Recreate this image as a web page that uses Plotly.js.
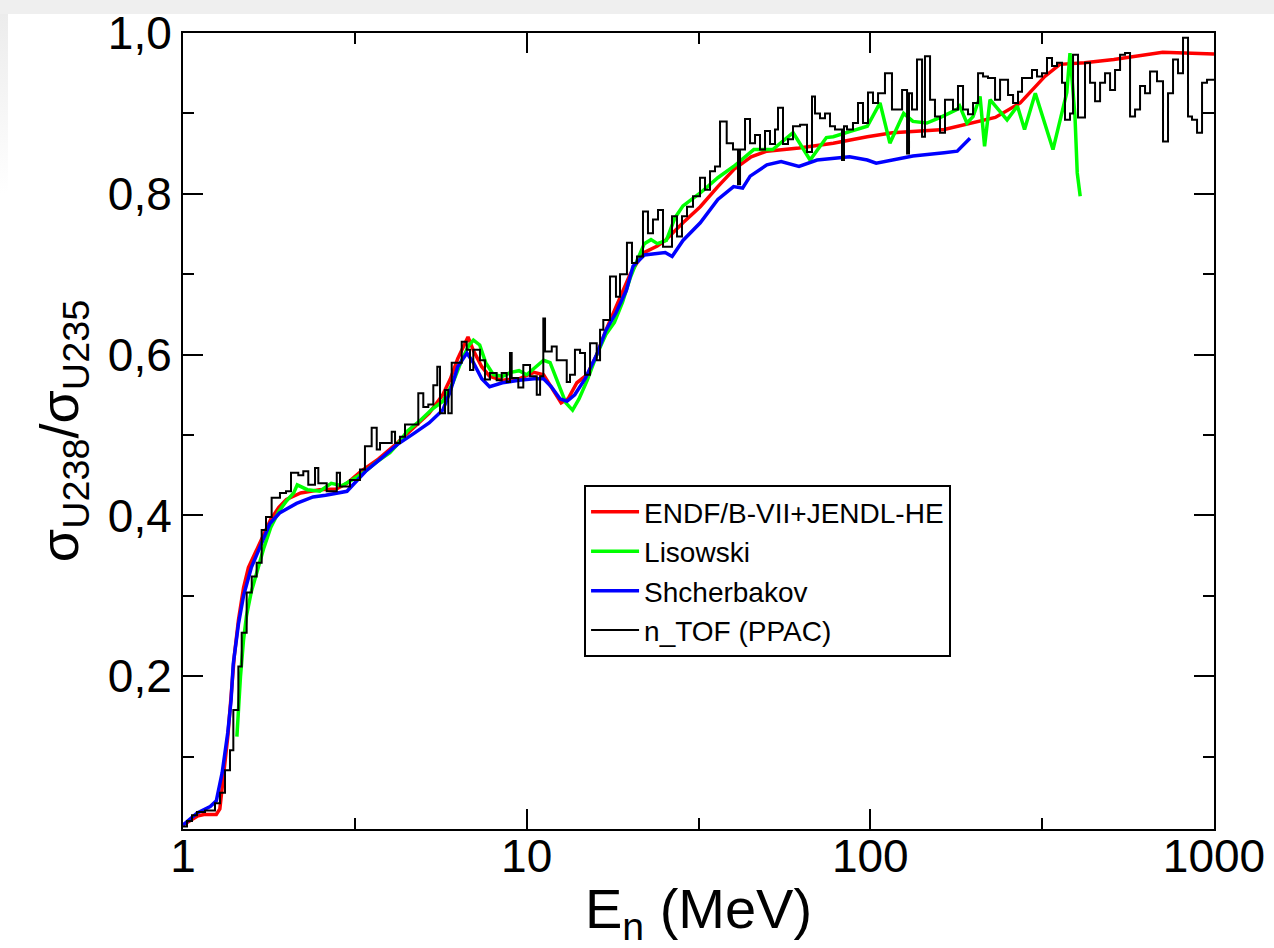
<!DOCTYPE html>
<html>
<head>
<meta charset="utf-8">
<script src="https://cdn.plot.ly/plotly-3.0.1.min.js"></script>
<style>
  html, body { margin: 0; padding: 0; background: #ffffff; }
  #topstrip { position: absolute; left: 0; top: 0; width: 1274px; height: 14px; background: #efefef; }
  #leftstrip { position: absolute; left: 0; top: 14px; width: 8px; height: 180px; background: linear-gradient(to bottom, #ececec, #ffffff); }
  #chart { position: absolute; left: 0; top: 0; width: 1274px; height: 948px; }
</style>
</head>
<body>
<div id="topstrip"></div>
<div id="leftstrip"></div>
<div id="chart"></div>
<script>
// ENDF/B-VII + JENDL-HE evaluation
const endfE = [1.00,1.05,1.10,1.15,1.25,1.28,1.31,1.35,1.38,1.41,
  1.45,1.50,1.55,1.60,1.70,1.80,1.90,2.00,2.20,2.50,
  2.80,3.00,3.30,3.70,4.20,4.70,5.20,5.70,6.00,6.30,
  6.60,6.75,7.00,7.40,7.80,8.50,9.50,10.5,11.2,11.8,
  12.6,13.2,14.0,15.0,16.0,17.0,18.0,19.0,20.0,21.0,
  22.0,24.0,25.3,28.5,32.0,36.0,40.0,45.0,50.0,62.0,
  78.0,98.0,116,164,195,231,273,302,322,356,
  420,511,633,709,1000];
const endfRatio = [0.015,0.020,0.026,0.028,0.028,0.035,0.075,0.125,0.175,0.225,
  0.270,0.310,0.335,0.348,0.372,0.395,0.410,0.420,0.428,0.432,
  0.433,0.440,0.455,0.470,0.490,0.510,0.527,0.550,0.570,0.595,
  0.615,0.622,0.605,0.585,0.573,0.568,0.570,0.578,0.575,0.560,
  0.540,0.545,0.565,0.575,0.600,0.630,0.655,0.680,0.700,0.715,
  0.727,0.735,0.742,0.764,0.784,0.809,0.830,0.846,0.853,0.857,
  0.863,0.871,0.876,0.880,0.888,0.895,0.913,0.934,0.946,0.961,
  0.963,0.967,0.973,0.976,0.974];

// Lisowski
const lisE = [1.435,1.45,1.47,1.50,1.53,1.58,1.65,1.72,1.80,1.90,
  2.00,2.10,2.15,2.30,2.50,2.70,2.90,3.10,3.40,3.70,
  4.00,4.20,4.50,4.90,5.30,5.70,6.10,6.50,6.80,7.00,
  7.30,7.60,8.00,8.50,9.00,9.50,10.0,10.6,11.2,11.7,
  12.3,13.0,13.6,14.2,15.0,16.0,17.0,18.0,19.0,20.0,
  21.0,22.0,23.0,24.0,25.5,27.0,28.5,32.0,36.0,40.0,
  45.8,52.0,59.6,66.8,74.5,78.0,88.0,98.0,106.7,114,
  125,133,146,160,179,182,191,199,208.6,215,
  223,250,268,281,302,340,373,381,394,400,
  408];
const lisRatio = [0.125,0.160,0.200,0.245,0.275,0.305,0.335,0.360,0.385,0.405,
  0.418,0.428,0.438,0.432,0.430,0.440,0.437,0.444,0.455,0.468,
  0.478,0.488,0.505,0.518,0.532,0.542,0.565,0.595,0.612,0.618,
  0.612,0.590,0.575,0.573,0.578,0.580,0.575,0.585,0.593,0.590,
  0.565,0.540,0.531,0.545,0.568,0.600,0.625,0.640,0.665,0.695,
  0.718,0.738,0.743,0.738,0.742,0.770,0.785,0.801,0.820,0.834,
  0.855,0.855,0.876,0.842,0.870,0.871,0.878,0.884,0.913,0.863,
  0.900,0.890,0.888,0.895,0.905,0.909,0.888,0.896,0.921,0.859,
  0.917,0.892,0.909,0.880,0.925,0.855,0.926,0.975,0.896,0.826,
  0.797];

// Shcherbakov
const shchE = [1.00,1.05,1.10,1.20,1.25,1.30,1.35,1.38,1.40,1.45,
  1.50,1.58,1.69,1.79,1.91,2.05,2.14,2.39,2.60,3.00,
  3.40,3.75,4.20,4.70,5.20,5.70,6.00,6.30,6.70,7.00,
  7.40,7.80,8.50,9.50,10.5,11.2,11.8,12.5,13.1,13.8,
  14.8,16.0,17.0,18.2,19.5,20.4,22.0,25.3,26.5,28.5,
  32.0,36.0,40.0,42.5,44.7,50.0,55.0,62.0,70.0,87.0,
  98.0,104,116,133,164,179,195];
const shchRatio = [0.015,0.022,0.030,0.038,0.045,0.080,0.130,0.170,0.215,0.265,
  0.300,0.335,0.365,0.390,0.403,0.410,0.415,0.423,0.425,0.430,
  0.455,0.470,0.488,0.502,0.515,0.531,0.555,0.585,0.602,0.590,
  0.570,0.560,0.565,0.568,0.570,0.570,0.560,0.545,0.542,0.550,
  0.570,0.600,0.630,0.652,0.680,0.710,0.724,0.727,0.722,0.742,
  0.764,0.793,0.809,0.807,0.822,0.836,0.840,0.834,0.842,0.846,
  0.842,0.838,0.842,0.847,0.851,0.853,0.869];

// n_TOF (PPAC) histogram: bin left edges (MeV) and ratio
const ntofE = [1.000,1.027,1.062,1.098,1.159,1.239,1.281,1.325,1.370,1.401,
  1.449,1.482,1.532,1.585,1.638,1.694,1.744,1.811,1.915,1.994,
  2.062,2.165,2.239,2.315,2.422,2.476,2.619,2.802,2.863,3.061,
  3.273,3.384,3.540,3.662,3.743,4.049,4.140,4.279,4.425,4.838,
  5.003,5.173,5.350,5.495,5.595,5.785,5.915,6.052,6.471,6.692,
  6.841,6.994,7.313,7.563,7.821,8.180,8.459,8.748,8.943,9.045,
  9.456,9.777,10.23,10.70,10.94,11.18,11.31,11.83,12.23,13.08,
  13.37,13.82,14.30,14.78,15.29,15.99,16.35,16.71,17.48,18.19,
  18.69,19.58,20.25,20.94,21.80,22.54,23.31,24.11,24.93,26.48,
  27.38,28.31,29.28,30.48,31.94,33.03,34.16,35.32,36.53,38.20,
  39.85,41.21,41.77,43.19,44.66,46.18,47.75,49.38,51.06,52.80,
  53.87,55.70,57.60,59.56,62.44,65.43,67.66,69.03,71.38,73.81,
  76.33,78.93,82.71,83.82,85.52,89.02,92.06,95.20,98.45,101.8,
  105.3,110.3,115.6,123.7,127.9,129.6,132.2,136.7,141.4,144.2,
  149.2,154.2,159.5,164.9,174.0,179.9,186.1,192.4,199.0,205.8,
  212.8,220.0,230.6,238.5,251.6,260.2,269.0,276.3,295.4,305.5,
  315.9,326.6,337.8,349.3,361.2,368.5,381.1,388.9,402.1,421.4,
  435.8,450.7,466.1,481.9,498.4,515.3,532.9,551.0,569.8,589.2,
  609.3,630.0,651.5,682.7,710.7,734.9,760.0,785.8,812.6,840.3,
  863.1,892.6,923.0,954.4,1000];
const ntofRatio = [0.013,0.020,0.027,0.031,0.033,0.042,0.055,0.083,0.108,0.158,
  0.212,0.254,0.304,0.324,0.341,0.382,0.398,0.422,0.428,0.430,
  0.453,0.450,0.455,0.438,0.459,0.440,0.430,0.453,0.436,0.444,
  0.457,0.486,0.509,0.482,0.490,0.504,0.490,0.498,0.513,0.552,
  0.535,0.538,0.562,0.585,0.527,0.556,0.527,0.590,0.616,0.606,
  0.581,0.606,0.593,0.569,0.577,0.568,0.577,0.566,0.602,0.571,
  0.559,0.587,0.573,0.550,0.573,0.645,0.604,0.610,0.593,0.566,
  0.575,0.606,0.602,0.575,0.614,0.593,0.631,0.643,0.697,0.672,
  0.700,0.739,0.714,0.722,0.778,0.751,0.768,0.780,0.734,0.772,
  0.747,0.772,0.784,0.797,0.820,0.805,0.828,0.834,0.890,0.863,
  0.855,0.812,0.855,0.893,0.863,0.873,0.855,0.878,0.862,0.880,
  0.907,0.862,0.868,0.884,0.886,0.852,0.921,0.900,0.894,0.900,
  0.884,0.880,0.842,0.884,0.880,0.888,0.913,0.888,0.926,0.913,
  0.925,0.950,0.905,0.929,0.850,0.925,0.905,0.967,0.871,0.971,
  0.917,0.896,0.876,0.917,0.905,0.934,0.905,0.899,0.913,0.950,
  0.946,0.944,0.917,0.942,0.923,0.913,0.927,0.944,0.954,0.946,
  0.950,0.969,0.959,0.963,0.938,0.892,0.900,0.973,0.895,0.963,
  0.938,0.915,0.938,0.950,0.929,0.954,0.973,0.975,0.896,0.905,
  0.934,0.925,0.952,0.940,0.865,0.925,0.967,0.950,0.994,0.896,
  0.892,0.876,0.938,0.942,0.942];

const xTickVals = [1, 10, 100, 1000];
const xTickText = ['1', '10', '100', '1000'];
const xMinorVals = [3.1623, 31.623, 316.23];
const yTickVals = [0.2, 0.4, 0.6, 0.8, 1.0];
const yTickText = ['0,2', '0,4', '0,6', '0,8', '1,0'];
const yMinorVals = [0.1, 0.3, 0.5, 0.7, 0.9];

const FONT = 'Liberation Sans, Arial, Helvetica, sans-serif';

const traces = [
  {x: endfE, y: endfRatio, name: 'ENDF/B-VII+JENDL-HE', mode: 'lines',
   line: {color: '#ff0000', width: 3.5}},
  {x: lisE, y: lisRatio, name: 'Lisowski', mode: 'lines',
   line: {color: '#00ff00', width: 3.5}},
  {x: shchE, y: shchRatio, name: 'Shcherbakov', mode: 'lines',
   line: {color: '#0000ff', width: 3.5}},
  {x: ntofE, y: ntofRatio, name: 'n_TOF (PPAC)', mode: 'lines',
   line: {color: '#000000', width: 2, shape: 'hv'}}
];

const axisCommon = {
  showline: true, linecolor: '#000', linewidth: 2, mirror: 'allticks',
  ticks: 'inside', ticklen: 20, tickwidth: 2, tickcolor: '#000',
  showgrid: false, zeroline: false,
  tickfont: {family: FONT, size: 46, color: '#000'}
};

const layout = {
  width: 1274, height: 948,
  margin: {l: 183, r: 60, t: 33, b: 119},
  paper_bgcolor: 'rgba(0,0,0,0)',
  plot_bgcolor: '#ffffff',
  showlegend: true,
  legend: {
    x: 0.389, y: 0.432, xanchor: 'left', yanchor: 'top',
    bgcolor: '#ffffff', bordercolor: '#000', borderwidth: 2,
    font: {family: FONT, size: 28, color: '#000'},
    itemwidth: 48,
    tracegroupgap: 0
  },
  xaxis: Object.assign({}, axisCommon, {
    type: 'log', range: [0, 3],
    tickmode: 'array', tickvals: xTickVals, ticktext: xTickText,
    ticklabelstandoff: -14,
    minor: {tickmode: 'array', tickvals: xMinorVals, ticks: 'inside', ticklen: 11, tickwidth: 2, tickcolor: '#000'},
    title: {text: 'E<sub>n</sub> (MeV)', font: {family: FONT, size: 56, color: '#000'}, standoff: 18}
  }),
  yaxis: Object.assign({}, axisCommon, {
    range: [0.01, 1.0],
    tickmode: 'array', tickvals: yTickVals, ticktext: yTickText,
    minor: {tickmode: 'array', tickvals: yMinorVals, ticks: 'inside', ticklen: 11, tickwidth: 2, tickcolor: '#000'},
    title: {text: 'σ<sub>U238</sub>/σ<sub>U235</sub>', font: {family: FONT, size: 54, color: '#000'}, standoff: 12}
  })
};

Plotly.newPlot('chart', traces, layout, {displayModeBar: false, staticPlot: true});
</script>
</body>
</html>
